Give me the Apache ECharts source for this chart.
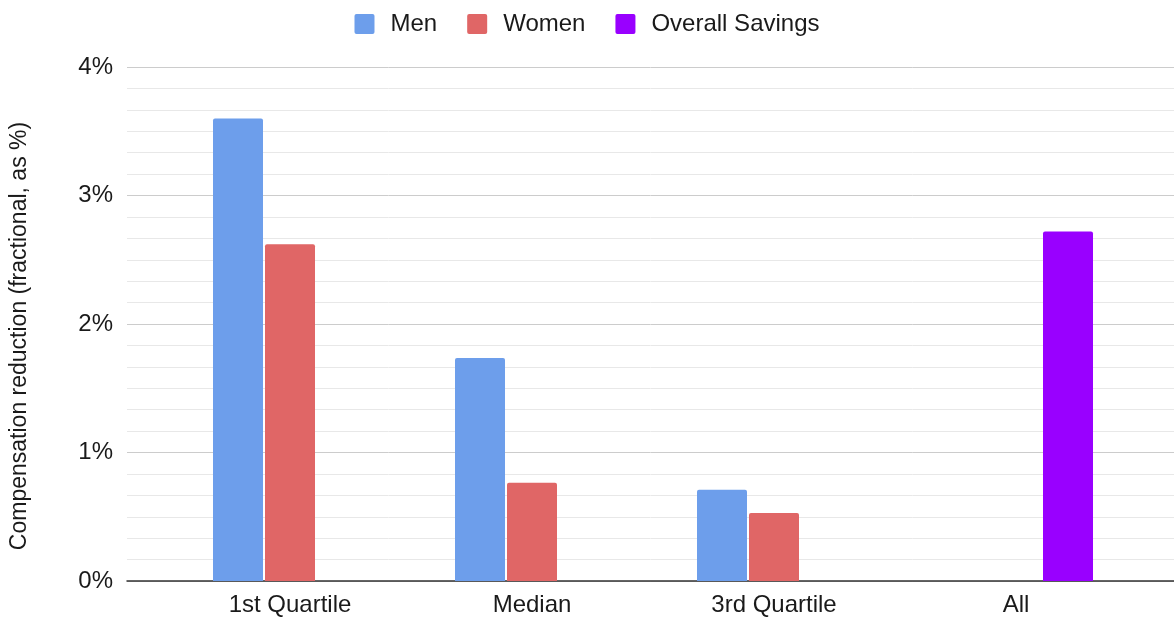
<!DOCTYPE html>
<html>
<head>
<meta charset="utf-8">
<script src="https://cdn.jsdelivr.net/npm/echarts@6/dist/echarts.min.js"></script>
<style>
  html, body { margin: 0; padding: 0; background: #fff; }
  #chart { width: 1174px; height: 619px; }
</style>
</head>
<body>
<div id="chart"></div>
<script>
const categories = ['1st Quartile', 'Median', '3rd Quartile', 'All']
const men = [3.6, 1.735, 0.71, null]
const women = [2.62, 0.765, 0.53, null]
const overallSavings = [null, null, null, 2.72]
const yTicks = [0, 1, 2, 3, 4]

const font = 'Arial, "Liberation Sans", sans-serif'
const chart = echarts.init(document.getElementById('chart'), null, { renderer: 'canvas' })

const barStyle = color => ({ color: color, borderRadius: [2, 2, 0, 0] })

chart.setOption({
  animation: false,
  textStyle: { fontFamily: font },
  legend: {
    top: 7,
    left: 'center',
    itemWidth: 20,
    itemHeight: 20,
    itemGap: 30,
    icon: 'path://M2,0 H18 Q20,0 20,2 V18 Q20,20 18,20 H2 Q0,20 0,18 V2 Q0,0 2,0 Z',
    textStyle: { fontSize: 24, color: '#1a1a1a', fontFamily: font, padding: [0, 0, 0, 11] },
    data: ['Men', 'Women', 'Overall Savings']
  },
  grid: [
    // background grid: gridlines, y labels, baseline
    { left: 127, right: 0, top: 67, bottom: 38 },
    // bars
    { left: 169, right: 37, top: 67, bottom: 38 }
  ],
  xAxis: [
    {
      gridIndex: 0, type: 'value', min: 0, max: 1,
      axisLine: { show: true, lineStyle: { color: '#333', width: 1.5 } },
      axisTick: { show: false }, axisLabel: { show: false }, splitLine: { show: false }
    },
    {
      gridIndex: 1, type: 'category', data: categories,
      axisLine: { show: false }, axisTick: { show: false },
      axisLabel: { fontSize: 24, color: '#1a1a1a', margin: 12, fontFamily: font }
    }
  ],
  yAxis: [
    {
      gridIndex: 0, type: 'value', min: yTicks[0], max: yTicks[yTicks.length - 1], interval: 1,
      name: 'Compensation reduction (fractional, as %)',
      nameLocation: 'middle', nameGap: 96,
      nameTextStyle: { fontSize: 23, color: '#1a1a1a', fontFamily: font, padding: [0, 24, 0, 0] },
      axisLine: { show: false }, axisTick: { show: false },
      axisLabel: { formatter: '{value}%', fontSize: 24, color: '#1a1a1a', margin: 14, fontFamily: font },
      splitLine: { show: true, lineStyle: { color: '#cccccc', width: 1 } },
      minorTick: { show: false, splitNumber: 6 },
      minorSplitLine: { show: true, lineStyle: { color: '#e8e8e8', width: 1 } }
    },
    {
      gridIndex: 1, type: 'value', min: 0, max: 4, interval: 1, show: false,
      splitLine: { show: false }
    }
  ],
  series: [
    {
      name: 'Men', type: 'bar', xAxisIndex: 1, yAxisIndex: 1,
      data: men, barWidth: 50, barGap: '4%',
      itemStyle: barStyle('#6d9eeb')
    },
    {
      name: 'Women', type: 'bar', xAxisIndex: 1, yAxisIndex: 1,
      data: women, barWidth: 50, barGap: '4%',
      itemStyle: barStyle('#e06666')
    },
    {
      name: 'Overall Savings', type: 'bar', xAxisIndex: 1, yAxisIndex: 1,
      data: overallSavings, barWidth: 50, barGap: '4%',
      itemStyle: barStyle('#9900ff')
    }
  ]
})
</script>
</body>
</html>
